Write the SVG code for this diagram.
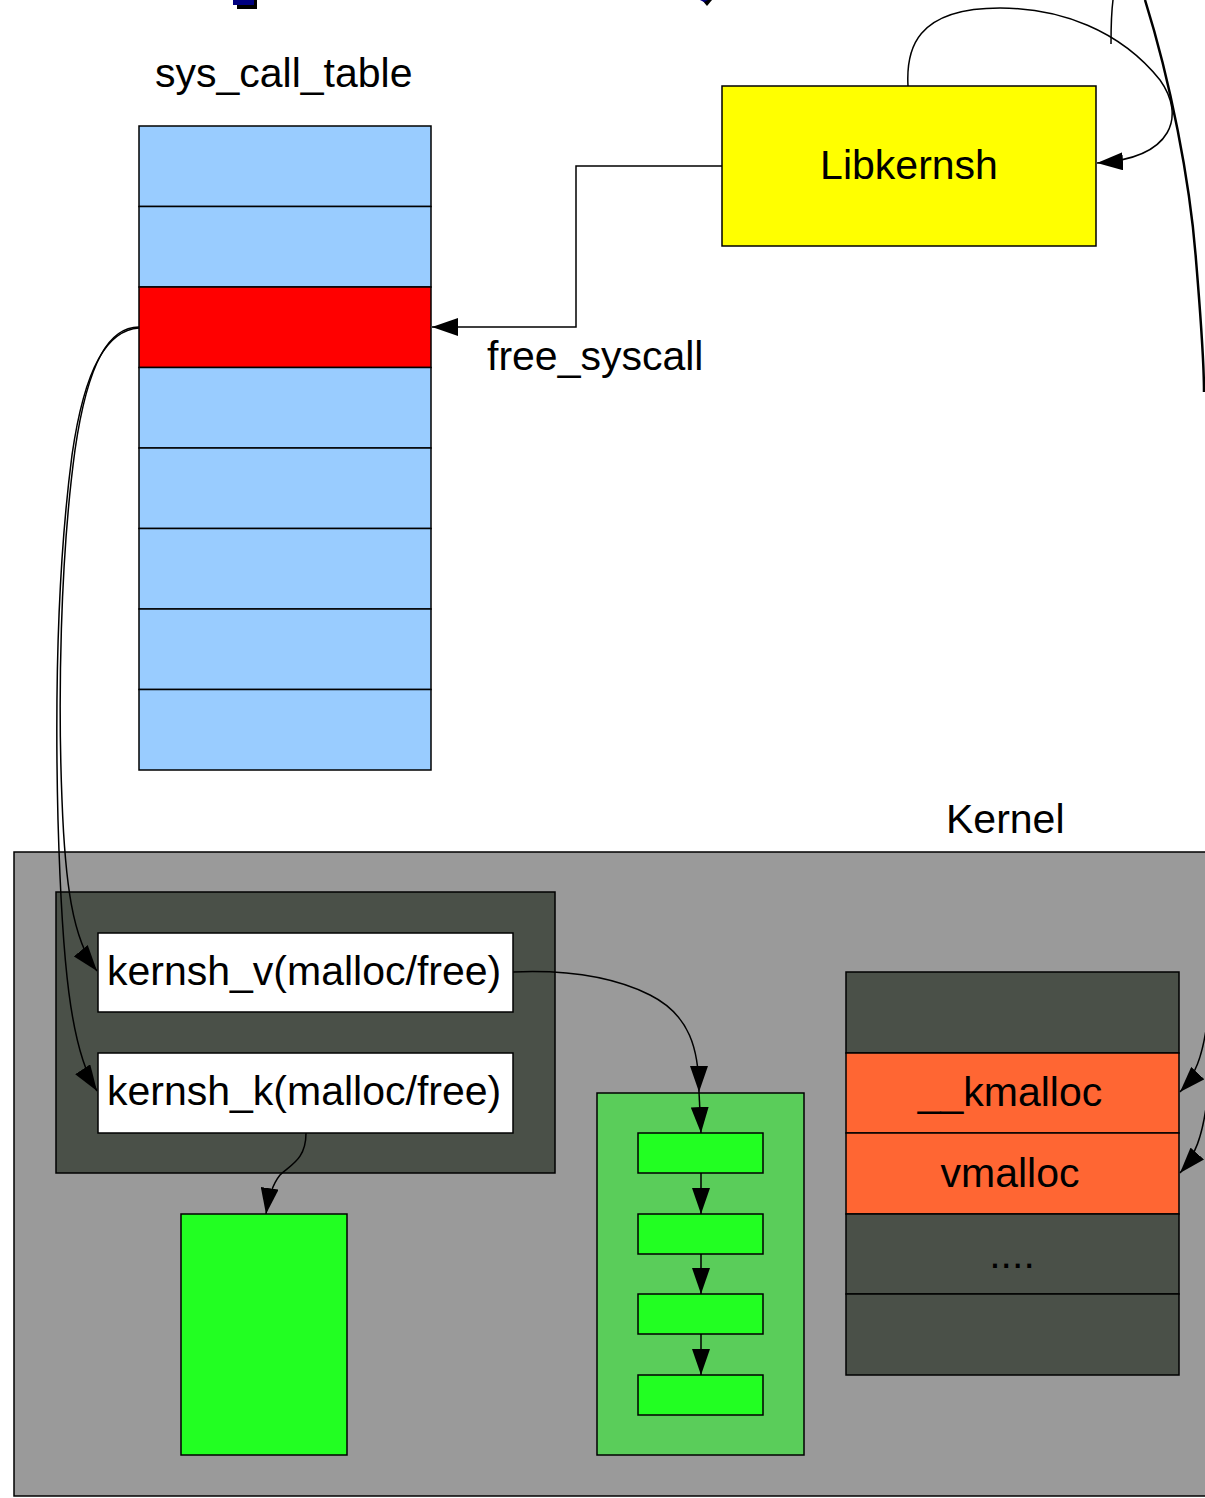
<svg xmlns="http://www.w3.org/2000/svg" width="1205" height="1498" viewBox="0 0 1205 1498">
  <style>
    .box { stroke: #000; stroke-width: 1.5; }
    .cell { fill: #99ccff; stroke: #000; stroke-width: 1.5; }
    .hot { fill: #ff0000; }
    .lib { fill: #ffff00; }
    .kernel { fill: #9a9a9a; }
    .dark { fill: #4a5048; }
    .white { fill: #ffffff; }
    .bright { fill: #22ff22; }
    .pool { fill: #5acd5a; }
    .orange { fill: #ff6633; }
    .edge { fill: none; stroke: #000; stroke-width: 1.5; }
    .label { font-family: "Liberation Sans", Arial, sans-serif; font-size: 41px; fill: #000; }
  </style>
  <defs>
    <marker id="arrow" viewBox="0 0 26 18" refX="26" refY="9" markerWidth="26" markerHeight="18" markerUnits="userSpaceOnUse" orient="auto">
      <path d="M0,0 L26,9 L0,18 Z" fill="#000"/>
    </marker>
  </defs>

  <rect width="1205" height="1498" fill="#ffffff"/>

  <!-- partial shapes at the top edge -->
  <g id="top-fragments">
    <rect x="237" y="0" width="20" height="9" fill="#000"/>
    <rect x="233" y="-4" width="21" height="9" fill="#000080"/>
    <path d="M702,0 L712,0 L707,6 Z" fill="#000"/>
    <path d="M700,0 L708,0 L704,2 Z" fill="#000080"/>
  </g>

  <!-- kernel area -->
  <g id="kernel">
    <rect class="box kernel" x="14" y="852" width="1200" height="644"/>
    <text class="label" x="946" y="833">Kernel</text>
  </g>

  <!-- system call table -->
  <g id="sys_call_table">
    <text class="label" x="155" y="87">sys_call_table</text>
    <rect class="cell" x="139" y="126" width="292" height="80.5"/>
    <rect class="cell" x="139" y="206.5" width="292" height="80.5"/>
    <rect class="cell hot" x="139" y="287" width="292" height="80.5"/>
    <rect class="cell" x="139" y="367.5" width="292" height="80.5"/>
    <rect class="cell" x="139" y="448" width="292" height="80.5"/>
    <rect class="cell" x="139" y="528.5" width="292" height="80.5"/>
    <rect class="cell" x="139" y="609" width="292" height="80.5"/>
    <rect class="cell" x="139" y="689.5" width="292" height="80.5"/>
  </g>

  <g id="libkernsh">
    <rect class="box lib" x="722" y="86" width="374" height="160"/>
    <text class="label" x="909" y="179" text-anchor="middle">Libkernsh</text>
  </g>

  <g id="kernsh-group">
    <rect class="box dark" x="56" y="892" width="499" height="281"/>
  </g>
  <g id="kernsh_v">
    <rect class="box white" x="98" y="933" width="415" height="79"/>
    <text class="label" x="107" y="985">kernsh_v(malloc/free)</text>
  </g>
  <g id="kernsh_k">
    <rect class="box white" x="98" y="1053" width="415" height="80"/>
    <text class="label" x="107" y="1105">kernsh_k(malloc/free)</text>
  </g>

  <g id="kmem-block">
    <rect class="box bright" x="181" y="1214" width="166" height="241"/>
  </g>

  <g id="vmem-pool">
    <rect class="box pool" x="597" y="1093" width="207" height="362"/>
  </g>
  <g id="vmem-chunk-1"><rect class="box bright" x="638" y="1133" width="125" height="40"/></g>
  <g id="vmem-chunk-2"><rect class="box bright" x="638" y="1214" width="125" height="40"/></g>
  <g id="vmem-chunk-3"><rect class="box bright" x="638" y="1294" width="125" height="40"/></g>
  <g id="vmem-chunk-4"><rect class="box bright" x="638" y="1375" width="125" height="40"/></g>

  <g id="allocators">
    <rect class="box dark" x="846" y="972" width="333" height="81"/>
    <rect class="box orange" x="846" y="1053" width="333" height="80"/>
    <text class="label" x="1010" y="1106" text-anchor="middle">__kmalloc</text>
    <rect class="box orange" x="846" y="1133" width="333" height="81"/>
    <text class="label" x="1010" y="1187" text-anchor="middle">vmalloc</text>
    <rect class="box dark" x="846" y="1214" width="333" height="80"/>
    <text class="label" x="1012" y="1268" text-anchor="middle">....</text>
    <rect class="box dark" x="846" y="1294" width="333" height="81"/>
  </g>

  <!-- connectors -->
  <g id="connectors">
    <path class="edge" d="M722,166 L576,166 L576,327 L432,327" marker-end="url(#arrow)"/>
    <text class="label" x="487" y="370">free_syscall</text>

    <path class="edge" d="M908,86 C906,50 915,8 1000,8 C1060,8 1120,30 1160,80 C1185,115 1175,158 1097,163" marker-end="url(#arrow)"/>
    <path class="edge" d="M1113,0 C1111,15 1111,30 1111,44"/>
    <path class="edge" d="M1145,0 C1170,80 1190,180 1196,260 C1201,320 1204,360 1204,392" style="stroke-width:2.5"/>

    <path class="edge" d="M139,327 C110,327 88,360 75,450 C60,560 58,700 62,800 C65,880 72,940 97,971" marker-end="url(#arrow)"/>
    <path class="edge" d="M139,328 C108,330 85,365 72,455 C57,570 55,700 58,820 C62,960 70,1050 97,1091" marker-end="url(#arrow)"/>

    <path class="edge" d="M513,972 C560,970 610,975 650,995 C690,1015 699,1050 699,1092" marker-end="url(#arrow)"/>
    <path class="edge" d="M699,1092 L701,1133" marker-end="url(#arrow)"/>
    <path class="edge" d="M701,1173 L701,1214" marker-end="url(#arrow)"/>
    <path class="edge" d="M701,1254 L701,1294" marker-end="url(#arrow)"/>
    <path class="edge" d="M701,1334 L701,1375" marker-end="url(#arrow)"/>

    <path class="edge" d="M306,1133 C306,1160 290,1165 280,1175 C272,1185 268,1200 266,1214" marker-end="url(#arrow)"/>

    <path class="edge" d="M1206,1030 C1202,1055 1196,1075 1180,1092" marker-end="url(#arrow)"/>
    <path class="edge" d="M1206,1108 C1202,1135 1196,1155 1180,1173" marker-end="url(#arrow)"/>
  </g>
</svg>
